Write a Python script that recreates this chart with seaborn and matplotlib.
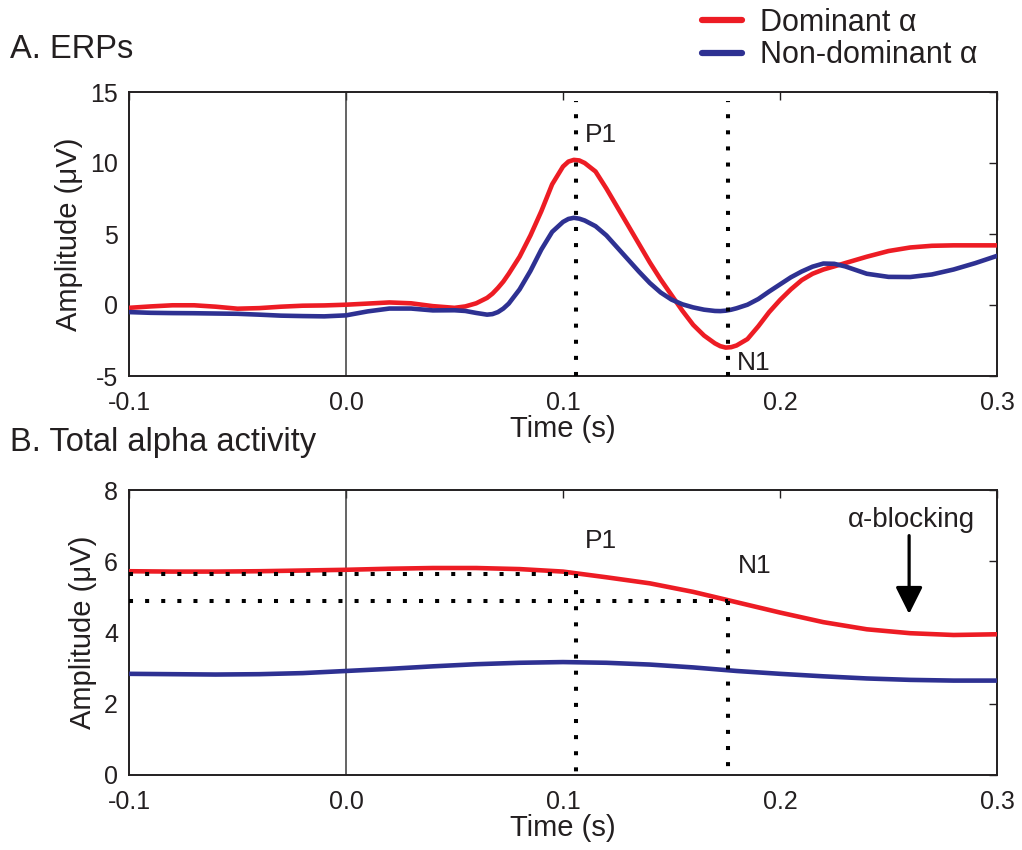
import numpy as np
import pandas as pd
import matplotlib
matplotlib.use("Agg")
import matplotlib.pyplot as plt
import seaborn as sns

# ---------------- data ----------------
series_names = ["Dominant α", "Non-dominant α"]

t_erp = [-0.1, -0.09, -0.08, -0.07, -0.06, -0.05, -0.04, -0.03, -0.02, -0.01,
         0.0, 0.01, 0.02, 0.03, 0.04, 0.05, 0.055, 0.06, 0.065, 0.0675, 0.07, 0.0725, 0.075,
         0.08, 0.085, 0.09, 0.095, 0.1, 0.1025, 0.105, 0.1075, 0.11, 0.115, 0.12, 0.125, 0.13,
         0.135, 0.14, 0.145, 0.15, 0.155, 0.16, 0.165, 0.17, 0.1725, 0.175, 0.1775, 0.18, 0.185,
         0.19, 0.195, 0.2, 0.205, 0.21, 0.215, 0.22, 0.225, 0.23, 0.24, 0.25,
         0.26, 0.27, 0.28, 0.29, 0.3]
erp_dominant = [-0.2, -0.1, -0.02, -0.02, -0.12, -0.26, -0.22, -0.12, -0.05, -0.03,
                0.02, 0.1, 0.18, 0.12, -0.08, -0.2, -0.1, 0.12, 0.5, 0.8, 1.2, 1.65, 2.2,
                3.4, 4.9, 6.6, 8.5, 9.75, 10.1, 10.22, 10.18, 10.0, 9.4, 8.2, 6.9, 5.6,
                4.3, 3.0, 1.8, 0.7, -0.4, -1.4, -2.15, -2.7, -2.9, -3.0, -2.97, -2.85, -2.4,
                -1.5, -0.5, 0.35, 1.1, 1.75, 2.2, 2.5, 2.72, 2.95, 3.4, 3.8,
                4.05, 4.17, 4.2, 4.2, 4.2]
erp_nondominant = [-0.5, -0.55, -0.57, -0.58, -0.6, -0.62, -0.68, -0.75, -0.78, -0.8,
                   -0.73, -0.45, -0.25, -0.25, -0.38, -0.37, -0.42, -0.56, -0.68, -0.64, -0.5, -0.25, 0.1,
                   1.1, 2.4, 3.9, 5.15, 5.85, 6.06, 6.14, 6.08, 5.95, 5.55, 4.9, 4.05, 3.2,
                   2.35, 1.55, 0.88, 0.38, 0.05, -0.17, -0.33, -0.42, -0.43, -0.4, -0.33, -0.23, 0.02,
                   0.42, 0.95, 1.45, 1.95, 2.36, 2.7, 2.92, 2.9, 2.72, 2.2, 1.98,
                   1.97, 2.15, 2.5, 2.95, 3.46]

t_alpha = [-0.1, -0.08, -0.06, -0.04, -0.02, 0.0, 0.02, 0.04, 0.06, 0.08, 0.1,
           0.12, 0.14, 0.16, 0.18, 0.2, 0.22, 0.24, 0.26, 0.28, 0.3]
alpha_dominant = [5.72, 5.71, 5.71, 5.72, 5.74, 5.76, 5.79, 5.81, 5.81, 5.78, 5.71,
                  5.55, 5.38, 5.14, 4.85, 4.56, 4.29, 4.09, 3.98, 3.93, 3.95]
alpha_nondominant = [2.84, 2.83, 2.82, 2.83, 2.86, 2.92, 2.98, 3.05, 3.11, 3.15, 3.17,
                     3.15, 3.10, 3.02, 2.92, 2.84, 2.77, 2.71, 2.67, 2.65, 2.65]

p1_time = 0.106
n1_time = 0.176
p1_alpha_level = 5.65
n1_alpha_level = 4.89

xticks = [-0.1, 0.0, 0.1, 0.2, 0.3]
xticklabels = ["-0.1", "0.0", "0.1", "0.2", "0.3"]
yticks_a = [-5, 0, 5, 10, 15]
yticks_b = [0, 2, 4, 6, 8]

# ---------------- style ----------------
sns.set_style("white")
plt.rcParams["font.family"] = ["Liberation Sans", "DejaVu Sans"]
plt.rcParams["axes.unicode_minus"] = False

RED = "#ED1C24"
BLUE = "#2E3192"
INK = "#231F20"
palette = {series_names[0]: RED, series_names[1]: BLUE}

df_a = pd.DataFrame({
    "t": t_erp + t_erp,
    "v": erp_dominant + erp_nondominant,
    "cond": [series_names[0]] * len(t_erp) + [series_names[1]] * len(t_erp),
})
df_b = pd.DataFrame({
    "t": t_alpha + t_alpha,
    "v": alpha_dominant + alpha_nondominant,
    "cond": [series_names[0]] * len(t_alpha) + [series_names[1]] * len(t_alpha),
})

fig = plt.figure(figsize=(10.22, 8.5), dpi=100)
W, H = 1022, 850
def rect(l, r, t, b):
    return [l / W, 1 - b / H, (r - l) / W, (b - t) / H]

ax_a = fig.add_axes(rect(129, 997, 92, 376))
ax_b = fig.add_axes(rect(129, 997, 490, 775))

LW = 3.3
TICK_FS = 18
LABEL_FS = 21
dot_style = (0, (1, 3))

for ax, df in ((ax_a, df_a), (ax_b, df_b)):
    ax.axvline(0.0, color="#3a3a3a", lw=1.1, zorder=1)
    sns.lineplot(data=df, x="t", y="v", hue="cond", palette=palette,
                 estimator=None, lw=LW, ax=ax, zorder=3,
                 legend=(ax is ax_a))
    for ln in ax.get_lines():
        ln.set_solid_joinstyle("round")
    ax.set_xlim(-0.1, 0.3)
    ax.set_xticks(xticks)
    ax.set_xticklabels(xticklabels)
    ax.tick_params(direction="in", top=True, right=True, length=6, width=1.0,
                   labelsize=TICK_FS, pad=8, colors=INK)
    ax.tick_params(axis="x", pad=11)
    for s in ax.spines.values():
        s.set_color(INK)
        s.set_linewidth(1.4)
    ax.set_xlabel("Time (s)", fontsize=LABEL_FS, labelpad=0, color=INK)
    ax.set_ylabel("Amplitude (μV)", fontsize=LABEL_FS, labelpad=5, color=INK)

# Panel A
ax_a.set_ylim(-5, 15)
ax_a.set_yticks(yticks_a)
ax_a.set_yticklabels([str(v) for v in yticks_a])
for tt in (p1_time, n1_time):
    ax_a.plot([tt, tt], [-5, 14.4], color="black", lw=2.9, ls=dot_style,
              zorder=4, dash_capstyle="butt")
ax_a.text(0.110, 12.0, "P1", fontsize=TICK_FS + 1, ha="left", va="center", color=INK)
ax_a.text(0.180, -4.1, "N1", fontsize=TICK_FS + 1, ha="left", va="center", color=INK)

# Panel B
ax_b.set_ylim(0, 8)
ax_b.set_yticks(yticks_b)
ax_b.set_yticklabels([str(v) for v in yticks_b])
for tt, lev in ((p1_time, p1_alpha_level), (n1_time, n1_alpha_level)):
    ax_b.plot([-0.1, tt], [lev, lev], color="black", lw=2.9, ls=dot_style,
              zorder=4, dash_capstyle="butt")
    ax_b.plot([tt, tt], [lev, 0], color="black", lw=2.9, ls=dot_style,
              zorder=4, dash_capstyle="butt")
ax_b.text(0.110, 6.57, "P1", fontsize=TICK_FS + 1, ha="left", va="center", color=INK)
ax_b.text(0.1805, 5.87, "N1", fontsize=TICK_FS + 1, ha="left", va="center", color=INK)
ax_b.text(0.2605, 7.16, "α-blocking", fontsize=TICK_FS + 2, ha="center", va="center",
          color=INK)
ax_b.annotate("", xy=(0.2595, 4.52), xytext=(0.2595, 6.72),
              arrowprops=dict(arrowstyle="-|>,head_width=0.55,head_length=1.1",
                              mutation_scale=15, lw=2.3, color="black",
                              shrinkA=0, shrinkB=0))

# Legend
sns.move_legend(ax_a, loc="upper left", bbox_to_anchor=(702 / W, 1 - 8 / H),
                bbox_transform=fig.transFigure, frameon=False, title=None,
                fontsize=22, handlelength=1.3, handletextpad=0.6,
                labelspacing=0.08, borderpad=0, borderaxespad=0)
for line in ax_a.get_legend().get_lines():
    line.set_linewidth(4.5)
    line.set_solid_capstyle("round")
for txt in ax_a.get_legend().get_texts():
    txt.set_color(INK)

# Panel titles
fig.text(10 / W, 1 - 50 / H, "A. ERPs", fontsize=23.5, ha="left", va="center", color=INK)
fig.text(10 / W, 1 - 442 / H, "B. Total alpha activity", fontsize=23.5, ha="left",
         va="center", color=INK)

fig.savefig("out.png", dpi=100)
